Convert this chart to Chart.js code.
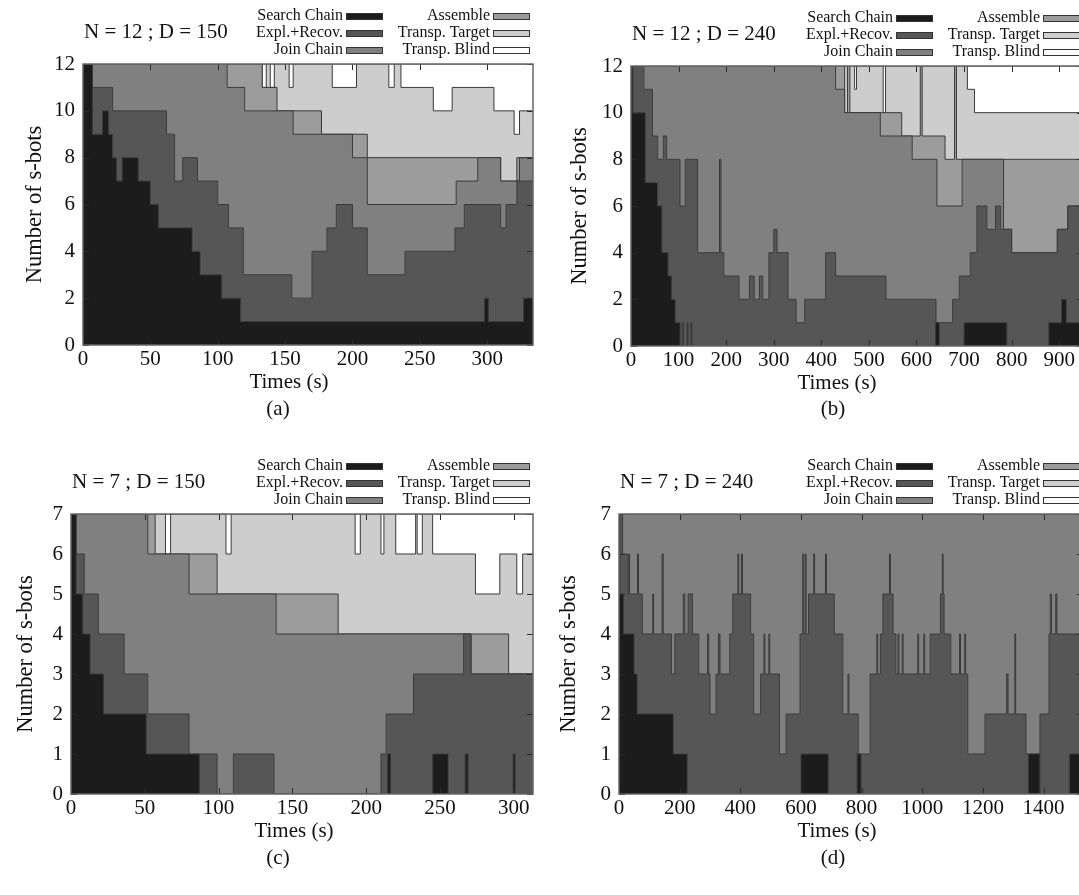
<!DOCTYPE html>
<html lang="en">
<head>
<meta charset="UTF-8">
<title>s-bots per state over time</title>
<style>
  html, body { margin: 0; padding: 0; background: #fff; overflow: hidden; }
  body { width: 1079px; height: 895px; position: relative; font-family: "Liberation Serif", serif; color: #111; }
  canvas { position: absolute; }
  .cap { position: absolute; width: 60px; text-align: center; font-size: 21px; line-height: 26px; }
</style>
</head>
<body>
<canvas id="chartA" width="545" height="400" style="left:0;top:0"></canvas>
<canvas id="chartB" width="560" height="400" style="left:545px;top:0"></canvas>
<canvas id="chartC" width="545" height="409" style="left:0;top:440px"></canvas>
<canvas id="chartD" width="560" height="409" style="left:545px;top:440px"></canvas>
<div class="cap" style="left:248px;top:395px">(a)</div>
<div class="cap" style="left:803px;top:395px">(b)</div>
<div class="cap" style="left:248px;top:844px">(c)</div>
<div class="cap" style="left:803px;top:844px">(d)</div>

<script src="https://cdn.jsdelivr.net/npm/chart.js"></script>
<script>
// states, bottom of the stack first
const states = ['Search Chain', 'Expl.+Recov.', 'Join Chain', 'Assemble', 'Transp. Target', 'Transp. Blind'];
const fills = ['#1c1c1c', '#565656', '#808080', '#9c9c9c', '#cdcdcd', '#ffffff'];

// every band is its upper edge over time: [time (s), number of s-bots up to that state]
// (a) N = 12 ; D = 150
const aSearch = [[0,12],[7,9],[14.5,10],[19,9],[22,8],[25,7],[29,8],[41,7],[50,6],[56,5],[81,4],[87,3],[103,2],[117,1],[298,2],[301,1],[327,2]];
const aExpl = [[0,12],[7,11],[22,10],[62,9],[68,7],[74,8],[85,7],[100,6],[108,5],[119,3],[155,2],[170,4],[181,5],[188,6],[200,5],[211,3],[239,4],[276,5],[283,6],[310,5],[314,6],[322,7]];
const aJoin = [[0,12],[107,11],[120,10],[156,9],[200,8],[211,6],[277,7],[293,8],[310,7],[324,8]];
const aAssemble = [[0,12],[133,11],[144,10],[177,9],[211,8],[310,7],[322,8]];
const aTarget = [[0,12],[133,11],[136,12],[139,11],[142,12],[153,11],[156,12],[185,11],[203,12],[227,11],[231,12],[236,11],[260,10],[274,11],[305,10],[320,9],[324,10]];
const aBlind = [[0,12]];

// (b) N = 12 ; D = 240
const bSearch = [[0,12],[4,10],[30,7],[56,6],[65,4],[78,3],[85,2],[93,1],[103,0],[108,1],[110,0],[118,1],[120,0],[126,1],[128,0],[640,1],[648,0],[700,1],[790,0],[878,1],[905,2],[915,1]];
const bExpl = [[0,12],[27,11],[45,9],[56,8],[68,9],[75,8],[103,6],[114,8],[140,4],[186,8],[189,4],[195,3],[227,2],[249,3],[259,2],[270,3],[277,2],[290,4],[300,5],[307,4],[330,2],[347,1],[365,2],[409,4],[430,3],[536,2],[641,1],[676,2],[690,3],[713,4],[727,6],[748,5],[766,6],[777,5],[800,4],[896,5],[918,6]];
const bJoin = [[0,12],[430,11],[449,10],[524,9],[591,8],[643,6],[696,8],[783,5],[800,4],[896,5],[918,6]];
const bAssemble = [[0,12],[449,10],[455,12],[460,10],[569,9],[608,12],[612,9],[660,8],[680,12],[684,8]];
const bTarget = [[0,12],[470,11],[474,12],[530,10],[535,12],[707,11],[722,10]];
const bBlind = [[0,12]];

// (c) N = 7 ; D = 150
const cSearch = [[0,7],[3.5,5],[8,4],[13,3],[22,2],[51,1],[87,0],[214.5,1],[216.5,0],[245,1],[255.5,0],[267,1],[269,0],[299.5,1],[301,0]];
const cExpl = [[0,7],[3.5,6],[9,5],[18.5,4],[36,3],[52,2],[80,1],[99,0],[110,1],[137.5,0],[210,1],[213.5,2],[232,3],[266,4],[271,3]];
const cJoin = [[0,7],[52,6],[80,5],[139,4],[271,3]];
const cAssemble = [[0,7],[57,6],[99,5],[181,4],[296.5,3]];
const cTarget = [[0,7],[64,6],[67.5,7],[105,6],[108.5,7],[192.5,6],[196,7],[210,6],[212,7],[220,6],[233.5,7],[234.5,6],[238,7],[245,6],[274,5],[290.5,6],[302,5],[306,6]];
const cBlind = [[0,7]];

// (d) N = 7 ; D = 240
const dSearch = [[0,7],[3,5],[15,4],[50,3],[60,2],[179,1],[225,0],[600,1],[690,0],[785,1],[798,0],[1350,1],[1388,0],[1485,1]];
const dExpl = [[0,7],[12,6],[29,5],[32,6],[35,5],[61,6],[64,5],[77,4],[111,5],[114,4],[142,6],[146,4],[173,3],[184,4],[212,5],[217,4],[228,5],[242,4],[263,3],[292,4],[296,3],[300,2],[320,3],[328,4],[333,3],[365,4],[375,5],[392,6],[395,5],[404,6],[407,5],[434,4],[444,2],[467,3],[478,4],[481,3],[494,4],[497,3],[529,1],[551,2],[597,4],[606,6],[609,4],[614,6],[617,4],[625,5],[642,6],[645,5],[681,6],[684,5],[710,4],[738,2],[755,3],[758,2],[789,1],[828,3],[850,4],[853,3],[862,4],[870,5],[892,6],[895,5],[904,4],[913,3],[920,4],[923,3],[934,4],[937,3],[985,4],[988,3],[1005,4],[1008,3],[1026,4],[1060,5],[1066,6],[1069,5],[1072,4],[1094,3],[1123,4],[1126,3],[1140,4],[1143,3],[1150,1],[1207,2],[1278,3],[1283,2],[1305,4],[1308,2],[1342,1],[1388,2],[1418,4],[1422,5],[1426,4],[1440,5],[1444,4]];
const dJoin = [[0,7]];
const dAssemble = [[0,7]];
const dTarget = [[0,7]];
const dBlind = [[0,7]];

Chart.defaults.font.family = '"Liberation Serif", serif';
Chart.defaults.color = '#111';

// title, x axis title and two-column legend
const panelHead = {
  id: 'panelHead',
  afterDraw(chart, args, opts) {
    const {ctx, chartArea: ca} = chart;
    ctx.save();
    ctx.textBaseline = 'middle';
    ctx.fillStyle = '#111';
    ctx.font = '21px "Liberation Serif"';
    ctx.textAlign = 'left';
    ctx.fillText(opts.title, ca.left + 1, ca.top - 32);
    ctx.textAlign = 'center';
    ctx.fillText('Times (s)', opts.xTitleX, ca.bottom + 37);
    ctx.font = '16px "Liberation Serif"';
    ctx.textAlign = 'right';
    states.forEach((name, i) => {
      const col = Math.floor(i / 3), row = i % 3;
      const sx = ca.right - 40 - (1 - col) * 147;
      const sy = Math.round(ca.top - 48 + row * 17);
      ctx.fillStyle = fills[i];
      ctx.fillRect(sx, sy - 3, 37, 7);
      ctx.strokeStyle = '#333';
      ctx.lineWidth = 1;
      ctx.strokeRect(sx + 0.5, sy - 2.5, 36, 6);
      ctx.fillStyle = '#111';
      ctx.fillText(name, sx - 3, sy);
    });
    ctx.restore();
  }
};

// gnuplot-like frame with inward tick marks
const frame = {
  id: 'frame',
  afterDatasetsDraw(chart) {
    const {ctx, chartArea: ca, scales: {x, y}} = chart;
    ctx.save();
    ctx.strokeStyle = '#2a2a2a';
    ctx.lineWidth = 1;
    ctx.beginPath();
    x.ticks.forEach(t => {
      const px = Math.round(x.getPixelForValue(t.value)) + 0.5;
      ctx.moveTo(px, ca.top); ctx.lineTo(px, ca.top + 6);
      ctx.moveTo(px, ca.bottom); ctx.lineTo(px, ca.bottom - 6);
    });
    y.ticks.forEach(t => {
      const py = Math.round(y.getPixelForValue(t.value)) + 0.5;
      ctx.moveTo(ca.left, py); ctx.lineTo(ca.left + 6, py);
      ctx.moveTo(ca.right, py); ctx.lineTo(ca.right - 6, py);
    });
    ctx.stroke();
    ctx.strokeStyle = '#666';
    ctx.lineWidth = 1.5;
    ctx.strokeRect(ca.left, ca.top, ca.right - ca.left, ca.bottom - ca.top);
    ctx.restore();
  }
};

function makePanel(id, p) {
  const canvas = document.getElementById(id);
  const W = canvas.width, H = canvas.height;
  const datasets = p.bands.map((band, i) => ({
    label: states[i],
    data: band.map(d => ({x: d[0], y: d[1]})).concat([{x: p.xmax, y: band[band.length - 1][1]}]),
    stepped: true,
    fill: i === 0 ? 'origin' : '-1',
    backgroundColor: fills[i],
    borderColor: '#3a3a3a',
    borderWidth: 1,
    pointRadius: 0
  }));
  new Chart(canvas, {
    type: 'line',
    data: {datasets},
    plugins: [panelHead, frame],
    options: {
      responsive: false,
      animation: false,
      devicePixelRatio: 1,
      events: [],
      layout: {padding: {left: 0, right: W - p.right, top: p.top, bottom: 0}},
      plugins: {
        legend: {display: false},
        tooltip: {enabled: false},
        panelHead: {title: p.title, xTitleX: p.xTitleX}
      },
      scales: {
        x: {
          type: 'linear', min: 0, max: p.xmax,
          grid: {display: false, drawTicks: false},
          border: {display: false},
          ticks: {stepSize: p.xstep, includeBounds: false, autoSkip: false, maxRotation: 0, padding: 2,
                  font: {size: 21}, callback: v => String(v)},
          afterFit: s => { s.height = H - p.bottom; s.paddingLeft = 0; s.paddingRight = 0; }
        },
        y: {
          min: 0, max: p.n,
          grid: {display: false, drawTicks: false},
          border: {display: false},
          ticks: {stepSize: p.ystep, padding: 8, font: {size: 21}, callback: v => String(v)},
          title: {display: true, text: 'Number of s-bots', font: {size: 22.5}, padding: {top: p.yPad, bottom: 0}},
          afterFit: s => { s.width = p.left; s.paddingTop = 0; s.paddingBottom = 0; }
        }
      }
    }
  });
}

makePanel('chartA', {title: 'N = 12 ; D = 150', n: 12, ystep: 2, xmax: 334, xstep: 50,
  left: 83, right: 533, top: 64, bottom: 345, yPad: 22, xTitleX: 289,
  bands: [aSearch, aExpl, aJoin, aAssemble, aTarget, aBlind]});
makePanel('chartB', {title: 'N = 12 ; D = 240', n: 12, ystep: 2, xmax: 950, xstep: 100,
  left: 86, right: 538, top: 66, bottom: 346, yPad: 22, xTitleX: 292,
  bands: [bSearch, bExpl, bJoin, bAssemble, bTarget, bBlind]});
makePanel('chartC', {title: 'N = 7 ; D = 150', n: 7, ystep: 1, xmax: 313, xstep: 50,
  left: 71, right: 533, top: 74, bottom: 354, yPad: 13, xTitleX: 294,
  bands: [cSearch, cExpl, cJoin, cAssemble, cTarget, cBlind]});
makePanel('chartD', {title: 'N = 7 ; D = 240', n: 7, ystep: 1, xmax: 1530, xstep: 200,
  left: 74, right: 538, top: 74, bottom: 354, yPad: 11, xTitleX: 292,
  bands: [dSearch, dExpl, dJoin, dAssemble, dTarget, dBlind]});
</script>
</body>
</html>
